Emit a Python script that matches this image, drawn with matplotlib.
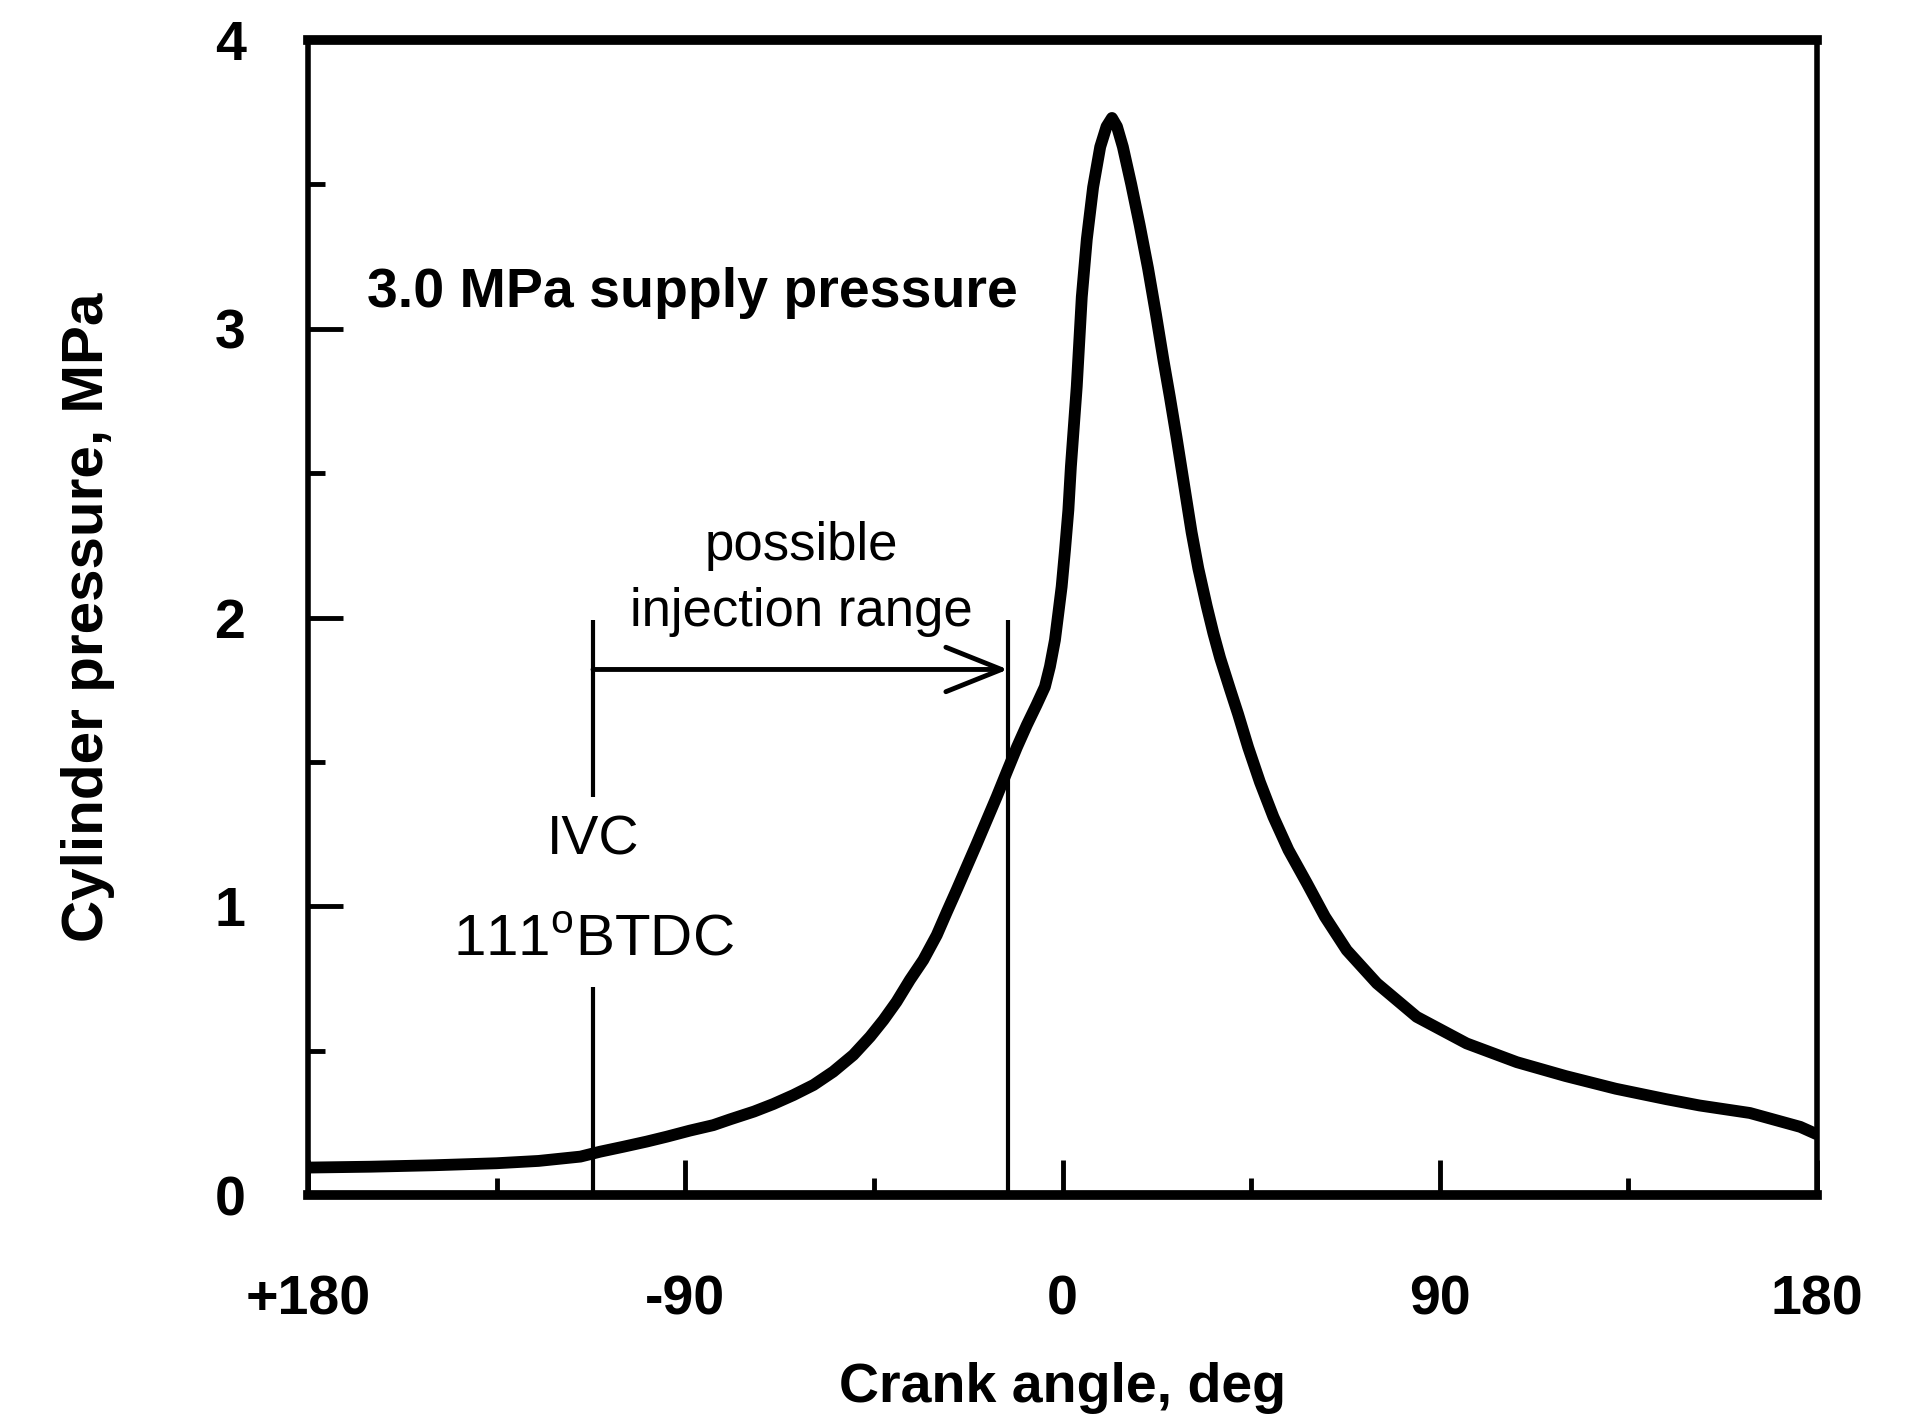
import matplotlib
matplotlib.use('Agg')
import matplotlib.pyplot as plt
from matplotlib.ticker import MultipleLocator

plt.rcParams['font.family'] = ['Liberation Sans', 'DejaVu Sans']
plt.rcParams['mathtext.fontset'] = 'custom'
plt.rcParams['mathtext.rm'] = 'Liberation Sans'

# values
crank_angle = [-180, -165, -150, -135, -125, -115, -110.3, -104.8, -99.2, -94.4,
               -88.9, -83.3, -79.3, -73.6, -69.0, -64.2, -59.4, -54.7, -49.9,
               -45.9, -42.7, -39.6, -36.4, -33.2, -30.0, -27.6, -25.2, -22.9,
               -20.5, -18.1, -15.7, -13.3, -10.9, -8.5, -6.2, -4.2, -3.0, -1.8,
               -1.0, -0.2, 0.6, 1.4, 2.0, 2.7, 3.4, 4.6, 5.8, 7.3, 9.0, 10.5, 11.8,
               13.0, 14.4, 16.4, 18.4, 20.4, 22.3, 24.1, 25.6, 27.2, 28.4, 29.6,
               30.8, 32.4, 34.4, 36.0, 37.6, 40.0, 41.9, 44.3, 47.1, 50.3, 53.9,
               58.3, 62.6, 67.8, 75.0, 84.5, 96.4, 108.4, 120, 132, 144, 152, 164,
               176, 180]
pressure = [0.095, 0.098, 0.103, 0.110, 0.118, 0.133, 0.150, 0.167, 0.185, 0.202,
            0.223, 0.242, 0.262, 0.289, 0.315, 0.346, 0.381, 0.427, 0.485,
            0.548, 0.606, 0.669, 0.745, 0.814, 0.900, 0.980, 1.058, 1.135,
            1.215, 1.297, 1.379, 1.465, 1.550, 1.628, 1.697, 1.760, 1.830, 1.922,
            2.014, 2.107, 2.234, 2.372, 2.522, 2.661, 2.800, 3.11, 3.31, 3.49,
            3.63, 3.70, 3.73, 3.70, 3.63, 3.50, 3.36, 3.21, 3.05, 2.89, 2.765,
            2.625, 2.515, 2.405, 2.295, 2.170, 2.040, 1.945, 1.860, 1.750, 1.665,
            1.550, 1.430, 1.310, 1.195, 1.080, 0.964, 0.848, 0.733, 0.617,
            0.525, 0.460, 0.412, 0.368, 0.332, 0.310, 0.284, 0.236, 0.210]

ivc_angle = -112
inj_end = -13
arrow_p = 1.82

x_ticks = [-180, -90, 0, 90, 180]
x_labels = ['+180', '-90', '0', '90', '180']
y_ticks = [0, 1, 2, 3, 4]

fig = plt.figure(figsize=(19.14, 14.19), dpi=100)
ax = fig.add_axes([308 / 1914, 1 - 1195 / 1419, 1509 / 1914, 1155 / 1419])

ax.plot(crank_angle, pressure, color='black', lw=8.5, solid_joinstyle='round',
        solid_capstyle='butt')

# IVC marker (broken around its label) and injection window
ax.vlines([ivc_angle, ivc_angle], [0, 1.38], [0.72, 1.99], color='black', lw=3)
ax.vlines(inj_end, 0, 1.99, color='black', lw=3)
ax.annotate('', xy=(inj_end, arrow_p), xytext=(ivc_angle, arrow_p),
            arrowprops=dict(arrowstyle='->,head_length=1.0,head_width=0.4',
                            color='black', lw=3.5, mutation_scale=40,
                            shrinkA=0, shrinkB=0))

ax.text(-166, 3.075, '3.0 MPa supply pressure', fontsize=40, fontweight='bold',
        va='baseline', ha='left')
ax.text(-62.4, 2.2, 'possible', fontsize=38, va='baseline', ha='center')
ax.text(-62.4, 1.97, 'injection range', fontsize=38, va='baseline', ha='center')
ax.text(ivc_angle, 1.18, 'IVC', fontsize=40, va='baseline', ha='center')
ax.text(ivc_angle, 0.83, r'111$^{\mathregular{o}}$BTDC', fontsize=42,
        va='baseline', ha='center')

ax.set_xlim(-180, 180)
ax.set_ylim(0, 4)
ax.set_xticks(x_ticks)
ax.set_xticklabels(x_labels)
ax.set_yticks(y_ticks)
ax.xaxis.set_minor_locator(MultipleLocator(45))
ax.yaxis.set_minor_locator(MultipleLocator(0.5))

ax.tick_params(which='major', direction='in', length=25, width=3.5)
ax.tick_params(which='minor', direction='in', length=12, width=3.5)
ax.tick_params(axis='x', pad=57, labelsize=40)
ax.tick_params(axis='y', pad=45, labelsize=40)
for lab in ax.get_xticklabels() + ax.get_yticklabels():
    lab.set_fontweight('bold')

ax.spines['top'].set_linewidth(7)
ax.spines['bottom'].set_linewidth(7)
ax.spines['left'].set_linewidth(4)
ax.spines['right'].set_linewidth(4)

ax.set_xlabel('Crank angle, deg', fontsize=40, fontweight='bold')
ax.set_ylabel('Cylinder pressure, MPa', fontsize=42, fontweight='bold')
ax.xaxis.set_label_coords(0.5, -0.145)
ax.yaxis.set_label_coords(-0.128, 0.5)

fig.savefig('out.png', dpi=100)
